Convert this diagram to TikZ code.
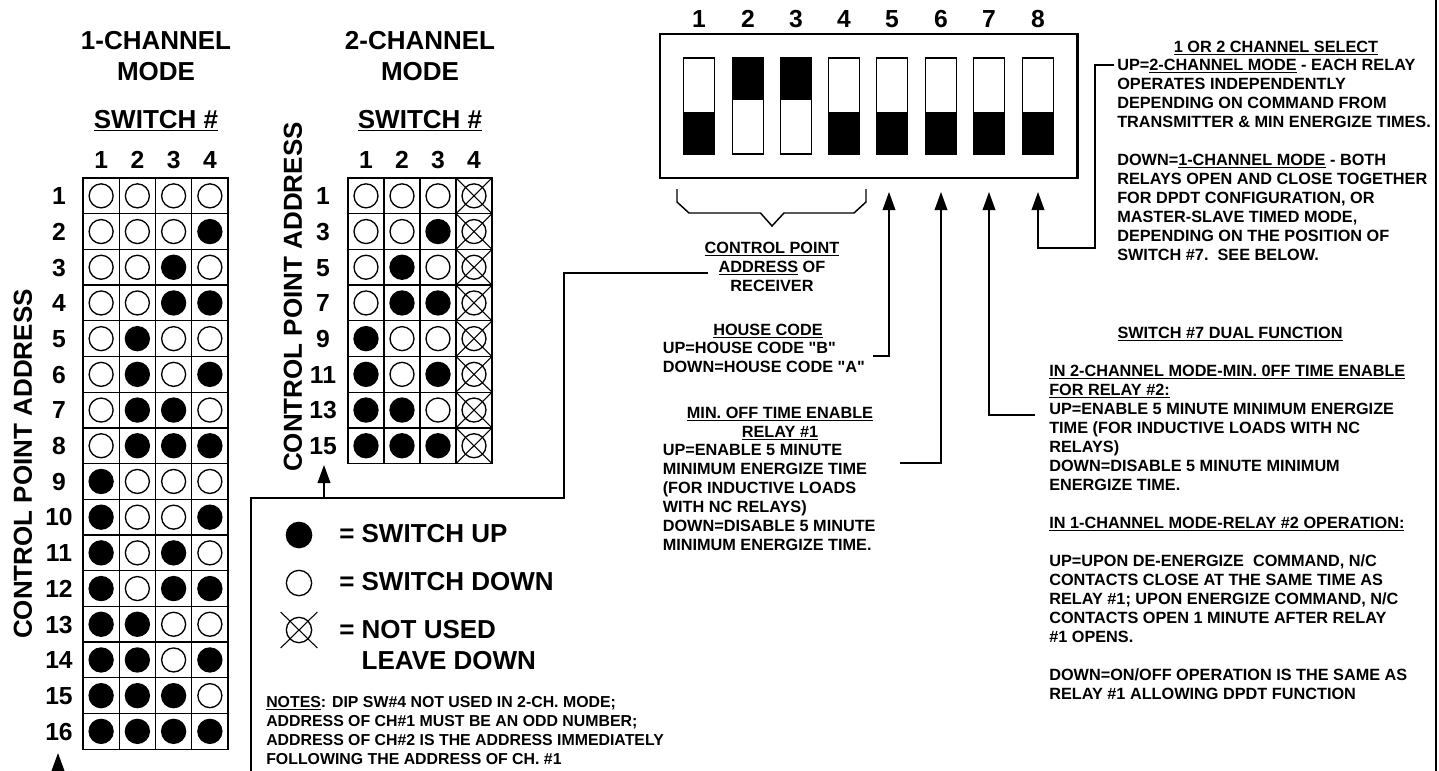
\documentclass[tikz,border=0pt]{standalone}
\usepackage{fontspec}
\setmainfont{Liberation Sans}[Ligatures=TeXOff]
\usetikzlibrary{arrows.meta,shapes.misc}
\tikzset{
	title/.style={font=\fontsize{19.5}{23.25}\selectfont\bfseries, inner sep=0, align=center},
	swnum/.style={font=\fontsize{18.5}{20}\selectfont\bfseries, inner sep=0, text height=13.2pt, text depth=0pt},
	note/.style={font=\fontsize{12.2}{14.25}\selectfont\bfseries, inner sep=0, align=left, anchor=north west},
	notehead/.style={font=\fontsize{12.2}{14.25}\selectfont\bfseries, inner sep=0, align=center, anchor=north},
	cell/.style={draw, line width=1pt, minimum width=27.1pt, minimum height=26.8pt, inner sep=0, outer sep=0},
	swup/.style={circle, draw, fill=black, line width=1pt, minimum size=18pt, inner sep=0},
	swdown/.style={circle, draw, fill=white, line width=1pt, minimum size=18pt, inner sep=0},
	unused/.style={cross out, draw, line width=.8pt, minimum width=27pt, minimum height=26.8pt, inner sep=0, outer sep=0},
	swbody/.style={draw, fill=white, line width=1pt, minimum width=23.2pt, minimum height=72pt, inner sep=0, outer sep=0},
	swknob/.style={fill=black, minimum width=23.2pt, minimum height=31.5pt, inner sep=0, outer sep=0},
	conn/.style={line width=1.1pt},
	tip/.style={conn, -{Triangle[length=13.5pt, width=9.5pt]}}
}
\begin{document}
\begin{tikzpicture}[x=.75pt, y=-.75pt]
	\useasboundingbox (0,0) rectangle (1439,771);

	\node[title] (onetitle) at (156,56.5) {1-CHANNEL\\MODE};
	\node[title] (twotitle) at (420,56.5) {2-CHANNEL\\MODE};
	\node[title] (oneswitch) at (156,121) {\underline{SWITCH \#}};
	\node[title] (twoswitch) at (420,121) {\underline{SWITCH \#}};
	\node[title, rotate=90] (oneaddr) at (23,464) {CONTROL POINT ADDRESS};
	\node[title, rotate=90] (twoaddr) at (293,297) {CONTROL POINT ADDRESS};

	\foreach \col in {1,...,4} {
		\node[swnum] (onehead\col) at ({83+36.25*(\col-.5)},160) {\col};
		\node[swnum] (twohead\col) at ({348+36*(\col-.5)},160) {\col};
	}
	\foreach \row in {1,...,16} {
		\node[swnum] (onerow\row) at (59,{178+35.7*(\row-.5)}) {\row};
		\foreach \col in {1,...,4} {
			\pgfmathtruncatemacro{\bit}{mod(floor((\row-1)/2^(4-\col)),2)}
			\ifnum\bit=1 \def\look{swup}\else\def\look{swdown}\fi
			\node[cell] (onecell\row-\col) at ({83+36.25*(\col-.5)},{178+35.7*(\row-.5)}) {};
			\node[\look] (onedot\row-\col) at (onecell\row-\col) {};
		}
	}
	\foreach \row in {1,...,8} {
		\pgfmathtruncatemacro{\addr}{2*\row-1}
		\node[swnum] (tworow\row) at (323,{178+35.7*(\row-.5)}) {\addr};
		\foreach \col in {1,...,3} {
			\pgfmathtruncatemacro{\bit}{mod(floor((\row-1)/2^(3-\col)),2)}
			\ifnum\bit=1 \def\look{swup}\else\def\look{swdown}\fi
			\node[cell] (twocell\row-\col) at ({348+36*(\col-.5)},{178+35.7*(\row-.5)}) {};
			\node[\look] (twodot\row-\col) at (twocell\row-\col) {};
		}
		\node[cell] (twocell\row-4) at ({348+36*3.5},{178+35.7*(\row-.5)}) {};
		\node[unused] (twocross\row) at (twocell\row-4) {};
		\node[swdown, fill=none] (twodot\row-4) at (twocell\row-4) {};
	}

	\node[swup, minimum size=19pt] (legup) at (299,535) {};
	\node[swdown, minimum size=19pt] (legdown) at (299,583) {};
	\node[unused, minimum width=27.5pt, minimum height=27pt] (legcross) at (299,630) {};
	\node[swdown, fill=none, minimum size=19pt] (legunused) at (299,630) {};
	\node[title, anchor=west] (uptext) at (339,534) {= SWITCH UP};
	\node[title, anchor=west] (downtext) at (339,582) {= SWITCH DOWN};
	\node[title, anchor=north west, align=left] (unusedtext) at (339,620) {= NOT USED\\\phantom{= }LEAVE DOWN};
	\node[note, font=\fontsize{11.9}{14.25}\selectfont\bfseries] (notes) at (266,696) {\underline{NOTES}: DIP SW\#4 NOT USED IN 2-CH. MODE;\\
		ADDRESS OF CH\#1 MUST BE AN ODD NUMBER;\\
		ADDRESS OF CH\#2 IS THE ADDRESS IMMEDIATELY\\
		FOLLOWING THE ADDRESS OF CH. \#1};

	\node[draw, line width=2pt, minimum width=313pt, minimum height=108pt, inner sep=0] (dip) at (868.75,106) {};
	\foreach \n/\x/\pos in {1/699/south, 2/748/north, 3/796/north, 4/844/south, 5/892/south, 6/941/south, 7/989/south, 8/1038/south} {
		\node[swnum] (dipnum\n) at (\x,19) {\n};
		\node[swbody] (sw\n) at (\x,106) {};
		\node[swknob, anchor=\pos] (knob\n) at (sw\n.\pos) {};
	}
	\draw[conn] (677,189) -- (677,202) -- (689,213) -- (760.5,213) -- (772,226) -- (784,213) -- (854,213) -- (866,202) -- (866,189);

	\coordinate (tipone) at (58,753);
	\coordinate (endone) at (58,771);
	\coordinate (tiptwo) at (324,465);
	\coordinate (jointwo) at (324,498);
	\coordinate (linkfoot) at (251,771);
	\coordinate (linkleft) at (251,498);
	\coordinate (linkright) at (564,498);
	\coordinate (linktop) at (564,273);
	\coordinate (linkend) at (708,273);
	\coordinate (tipfive) at (889,192);
	\coordinate (bendfive) at (889,356);
	\coordinate (endfive) at (873,356);
	\coordinate (tipsix) at (941,192);
	\coordinate (bendsix) at (941,463);
	\coordinate (endsix) at (900,463);
	\coordinate (tipseven) at (989,192);
	\coordinate (bendseven) at (989,415);
	\coordinate (endseven) at (1035,415);
	\coordinate (tipeight) at (1038,192);
	\coordinate (bendeight) at (1038,248);
	\coordinate (riseeight) at (1095,248);
	\coordinate (topeight) at (1095,65);
	\coordinate (endeight) at (1114,65);
	\coordinate (edgetop) at (1436,0);
	\coordinate (edgefoot) at (1436,771);

	\draw[tip] (endone) -- (tipone);
	\draw[tip] (jointwo) -- (tiptwo);
	\draw[conn] (linkfoot) -- (linkleft) -- (linkright) -- (linktop) -- (linkend);
	\draw[tip] (endfive) -- (bendfive) -- (tipfive);
	\draw[tip] (endsix) -- (bendsix) -- (tipsix);
	\draw[tip] (endseven) -- (bendseven) -- (tipseven);
	\draw[tip] (endeight) -- (topeight) -- (riseeight) -- (bendeight) -- (tipeight);
	\draw[line width=1.6pt] (edgetop) -- (edgefoot);

	\node[notehead] (addrnote) at (772,242) {\underline{CONTROL POINT}\\\underline{ADDRESS} OF\\RECEIVER};
	\node[notehead] (househead) at (768,324) {\underline{HOUSE CODE}};
	\node[note] (housenote) at (662.5,342) {UP=HOUSE CODE "B"\\DOWN=HOUSE CODE "A"};
	\node[notehead] (minhead) at (780,407) {\underline{MIN. OFF TIME ENABLE}\\\underline{RELAY \#1}};
	\node[note] (minnote) at (662.5,444) {UP=ENABLE 5 MINUTE\\
		MINIMUM ENERGIZE TIME\\
		(FOR INDUCTIVE LOADS\\
		WITH NC RELAYS)\\
		DOWN=DISABLE 5 MINUTE\\
		MINIMUM ENERGIZE TIME.};
	\node[notehead] (selecthead) at (1276,41) {\underline{1 OR 2 CHANNEL SELECT}};
	\node[note] (selectnote) at (1117,59) {UP=\underline{2-CHANNEL MODE} - EACH RELAY\\
		OPERATES INDEPENDENTLY\\
		DEPENDING ON COMMAND FROM\\
		TRANSMITTER \& MIN ENERGIZE TIMES.\\[14.25pt]
		DOWN=\underline{1-CHANNEL MODE} - BOTH\\
		RELAYS OPEN AND CLOSE TOGETHER\\
		FOR DPDT CONFIGURATION, OR\\
		MASTER-SLAVE TIMED MODE,\\
		DEPENDING ON THE POSITION OF\\
		SWITCH \#7.\ \ SEE BELOW.};
	\node[notehead] (dualhead) at (1230,327) {\underline{SWITCH \#7 DUAL FUNCTION}};
	\node[note] (dualnote) at (1049,365) {\underline{IN 2-CHANNEL MODE-MIN. 0FF TIME ENABLE}\\
		\underline{FOR RELAY \#2:}\\
		UP=ENABLE 5 MINUTE MINIMUM ENERGIZE\\
		TIME (FOR INDUCTIVE LOADS WITH NC\\
		RELAYS)\\
		DOWN=DISABLE 5 MINUTE MINIMUM\\
		ENERGIZE TIME.\\[14.25pt]
		\underline{IN 1-CHANNEL MODE-RELAY \#2 OPERATION:}\\[14.25pt]
		UP=UPON DE-ENERGIZE\ \ COMMAND, N/C\\
		CONTACTS CLOSE AT THE SAME TIME AS\\
		RELAY \#1; UPON ENERGIZE COMMAND, N/C\\
		CONTACTS OPEN 1 MINUTE AFTER RELAY\\
		\#1 OPENS.\\[14.25pt]
		DOWN=ON/OFF OPERATION IS THE SAME AS\\
		RELAY \#1 ALLOWING DPDT FUNCTION};
\end{tikzpicture}
\end{document}
